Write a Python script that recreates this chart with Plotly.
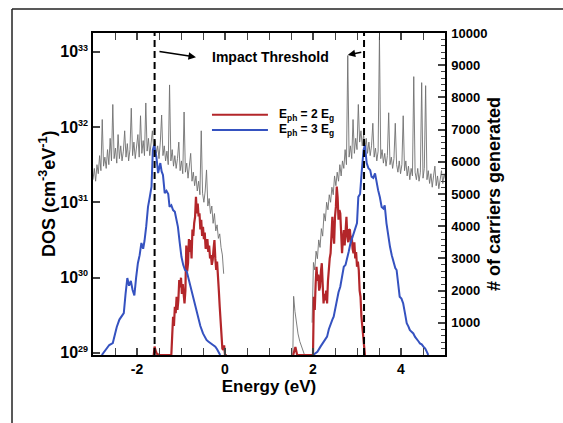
import math
import plotly.graph_objects as go

# ---------------- data ----------------
# Total DOS (gray), given as log10 values read from the log axis
dos_left_x = [round(-3.00 + 0.03 * i, 2) for i in range(100)]
dos_left_exp = [31.30, 31.45, 31.28, 31.50, 31.38, 31.62, 31.42, 32.10, 31.48, 31.60,
                31.45, 31.70, 31.50, 31.85, 31.55, 32.30, 31.58, 31.72, 31.52, 31.90,
                31.58, 31.75, 31.55, 31.68, 31.95, 31.60, 31.78, 31.55, 31.70, 32.25,
                31.62, 31.80, 31.58, 31.72, 31.90, 31.60, 32.15, 31.65, 31.82, 31.62,
                32.32, 31.68, 31.85, 31.62, 31.78, 31.95, 31.70, 31.82, 31.65, 31.75,
                31.58, 31.80, 32.16, 31.62, 31.75, 31.55, 31.68, 31.50, 32.56, 31.55,
                31.70, 31.48, 31.62, 31.45, 31.58, 31.80, 31.42, 31.55, 31.38, 32.20,
                31.40, 31.52, 31.32, 31.45, 31.65, 31.28, 31.40, 31.22, 31.35, 31.15,
                31.28, 31.10, 31.95, 31.12, 31.00, 31.15, 31.43, 30.95, 31.05, 30.85,
                30.95, 30.72, 30.85, 30.62, 30.70, 30.52, 30.58, 30.40, 30.30, 30.05]
dos_edge_x = [1.54, 1.56, 1.59, 1.62, 1.66, 1.70, 1.76, 1.82]
dos_edge_exp = [28.90, 29.75, 29.55, 29.40, 29.25, 29.15, 29.05, 28.95]
dos_right_x = [round(1.98 + 0.03 * i, 2) for i in range(102)]
dos_right_exp = [29.40, 30.20, 30.10, 30.35, 30.25, 30.50, 30.40, 30.65, 30.55, 30.85,
                 30.75, 31.00, 30.90, 31.10, 31.00, 31.20, 31.10, 31.35, 31.22, 31.40,
                 31.28, 31.50, 31.35, 31.55, 31.45, 31.70, 31.50, 32.95, 31.60, 31.75,
                 31.58, 32.10, 31.65, 31.85, 31.70, 32.30, 31.80, 31.95, 31.75, 31.90,
                 31.72, 31.85, 31.65, 31.80, 31.62, 31.75, 32.05, 31.60, 31.72, 31.55,
                 31.68, 33.20, 31.58, 31.70, 31.52, 31.65, 31.48, 31.62, 32.19, 31.50,
                 31.60, 31.45, 31.58, 32.05, 31.50, 31.40, 31.55, 31.38, 31.50, 32.15,
                 31.42, 31.55, 31.35, 31.48, 31.30, 31.45, 31.35, 32.67, 31.40, 31.30,
                 31.45, 31.28, 31.40, 32.59, 31.32, 31.45, 32.55, 31.30, 31.42, 31.25,
                 31.38, 31.20, 31.35, 31.48, 31.22, 31.35, 31.18, 31.30, 31.42, 31.25,
                 31.38, 31.30]

# Carriers generated, E_ph = 2 Eg (red)
red_x = [-1.62, -1.60, -1.58, -1.55, -1.50, -1.22, -1.20, -1.18, -1.16, -1.14, -1.12, -1.10,
         -1.08, -1.06, -1.04, -1.02, -1.00, -0.98, -0.96, -0.94, -0.92, -0.90, -0.88, -0.86,
         -0.84, -0.82, -0.80, -0.78, -0.76, -0.74, -0.72, -0.70, -0.68, -0.66, -0.64, -0.62,
         -0.60, -0.58, -0.56, -0.54, -0.52, -0.50, -0.48, -0.46, -0.44, -0.42, -0.40, -0.38,
         -0.36, -0.34, -0.32, -0.30, -0.28, -0.26, -0.24, -0.22, -0.20, -0.18, -0.16, -0.14,
         -0.12, -0.10, -0.08, -0.06, -0.04, -0.02, 0.00, 0.04,
         None,
         1.55, 1.60, 1.64, 2.00, 2.02, 2.04, 2.06, 2.08, 2.10, 2.12, 2.14, 2.16, 2.18, 2.20,
         2.22, 2.24, 2.26, 2.28, 2.30, 2.32, 2.34, 2.36, 2.38, 2.40, 2.42, 2.44, 2.46, 2.48,
         2.50, 2.52, 2.54, 2.56, 2.58, 2.60, 2.62, 2.64, 2.66, 2.68, 2.70, 2.72, 2.74, 2.76,
         2.78, 2.80, 2.82, 2.84, 2.86, 2.88, 2.90, 2.92, 2.94, 2.96, 2.98, 3.00, 3.02, 3.04,
         3.06, 3.08, 3.10, 3.12, 3.14, 3.16, 3.18]
red_y = [0, 260, 150, 40, 0, 0, 600, 1190, 900, 1500, 1300, 1810,
         1400, 1700, 2330, 2100, 2400, 1900, 2200, 1700, 1600, 2000, 3400, 2600,
         2850, 3600, 3200, 3570, 3000, 3900, 3700, 4100, 4290, 4910, 4400, 4700,
         4300, 4400, 3900, 4200, 3700, 3980, 3600, 3800, 3300, 3360, 3600, 3200,
         3400, 3000, 3100, 2800, 2950, 3300, 3570, 3000, 2640, 2900, 2230, 2000,
         1500, 990, 360, 200, 160, 300, 0, 0,
         None,
         0, 250, 0, 0, 1810, 1400, 2200, 2740, 2300, 2500, 2000, 2120, 2600, 2850,
         2200, 1600, 1900, 1700, 2000, 1600, 2300, 2740, 3000, 3160, 3700, 4290, 3800, 3460,
         4300, 4600, 5230, 4900, 4200, 4500, 4400, 3700, 3160, 3600, 3880, 3400, 3900, 4290,
         3700, 3500, 3900, 3880, 3500, 3700, 3300, 3160, 3500, 3000, 3200, 2740, 2900, 2640,
         2000, 1810, 1200, 880, 400, 260, 0]

# Carriers generated, E_ph = 3 Eg (blue)
blue_x = [-2.80, -2.72, -2.63, -2.55, -2.50, -2.46, -2.40, -2.36, -2.30, -2.26, -2.22, -2.18,
          -2.14, -2.10, -2.06, -2.02, -1.98, -1.94, -1.90, -1.86, -1.83, -1.79, -1.75, -1.71,
          -1.67, -1.64, -1.61, -1.58, -1.56, -1.52, -1.49, -1.47, -1.44, -1.41, -1.37, -1.33,
          -1.29, -1.26, -1.22, -1.18, -1.14, -1.10, -1.07, -1.03, -0.99, -0.95, -0.91, -0.87,
          -0.84, -0.80, -0.76, -0.72, -0.68, -0.64, -0.61, -0.56, -0.50, -0.46, -0.42, -0.38,
          -0.34, -0.30, -0.26, -0.22, -0.18, -0.14, -0.11,
          None,
          2.00, 2.10, 2.17, 2.24, 2.32, 2.36, 2.40, 2.44, 2.47, 2.51, 2.55, 2.58, 2.62, 2.66,
          2.70, 2.74, 2.77, 2.81, 2.85, 2.88, 2.92, 2.96, 3.00, 3.03, 3.07, 3.11, 3.15, 3.18,
          3.20, 3.22, 3.26, 3.30, 3.33, 3.37, 3.41, 3.45, 3.48, 3.52, 3.56, 3.60, 3.63, 3.67,
          3.71, 3.75, 3.79, 3.83, 3.87, 3.90, 3.94, 3.97, 4.01, 4.05, 4.09, 4.13, 4.17, 4.20,
          4.24, 4.28, 4.32, 4.36, 4.40, 4.43, 4.47, 4.51, 4.55, 4.58, 4.62]
blue_y = [0, 150, 310, 370, 700, 870, 1100, 1180, 1300, 1900, 2390, 2150,
          2300, 2020, 1850, 2400, 2850, 3100, 3480, 3300, 3540, 4000, 4600, 4900,
          5230, 6370, 6520, 6300, 6160, 5650, 5800, 5960, 5700, 5590, 5030, 5100,
          5000, 4600, 4650, 4500, 4450, 4200, 3980, 3500, 3050, 2800, 2640, 2600,
          2430, 2300, 2000, 1810, 1600, 1350, 1190, 900, 670, 550, 470, 420,
          380, 360, 300, 260, 180, 80, 0,
          None,
          0, 100, 260, 400, 570, 800, 990, 1100, 1190, 1500, 1810, 1950, 2120, 2400,
          2740, 2800, 2950, 3200, 3460, 3600, 3790, 3900, 4100, 4910, 5000, 5740, 6370, 6520,
          6200, 5960, 5800, 5740, 5540, 5500, 5640, 5300, 5120, 4900, 4600, 4550, 4650, 4090,
          3700, 3360, 3100, 2850, 2700, 2640, 2200, 1810, 1750, 1600, 1300, 990, 880, 780,
          720, 670, 560, 470, 420, 360, 330, 260, 200, 120, 0]

thresholds = [-1.6, 3.16]
right_ticks = [1000, 2000, 3000, 4000, 5000, 6000, 7000, 8000, 9000, 10000]
right_labels = ["1000", "2000", "3000", "4000", "5000", "6000", "7000", "8000", "9000", "10000"]
x_ticks = [-2, 0, 2, 4]
x_labels = ["-2", "0", "2", "4"]
dos_decades = [29, 30, 31, 32, 33]
legend_labels = ["E<sub>ph</sub> = 2 E<sub>g</sub>", "E<sub>ph</sub> = 3 E<sub>g</sub>"]

# ---------------- figure ----------------
FONT = "Liberation Sans"
RED = "#b3262a"
BLUE = "#3552c0"
GRAY = "#707070"

gray_x = dos_left_x + [None] + dos_edge_x + [None] + dos_right_x
gray_y = ([10 ** e for e in dos_left_exp] + [None] +
          [10 ** e for e in dos_edge_exp] + [None] +
          [10 ** e for e in dos_right_exp])

fig = go.Figure()
fig.add_trace(go.Scatter(x=gray_x, y=gray_y, mode="lines", yaxis="y",
                         line=dict(color=GRAY, width=0.9), showlegend=False,
                         connectgaps=False))
fig.add_trace(go.Scatter(x=red_x, y=red_y, mode="lines", yaxis="y2",
                         line=dict(color=RED, width=2.2), showlegend=False,
                         connectgaps=False))
fig.add_trace(go.Scatter(x=blue_x, y=blue_y, mode="lines", yaxis="y2",
                         line=dict(color=BLUE, width=2), showlegend=False,
                         connectgaps=False))

xtickfont = dict(family=FONT, size=14, color="black", weight="bold")
rtickfont = dict(family=FONT, size=13, color="black", weight="bold")
titlefont = dict(family=FONT, size=18, color="black", weight="bold")

log_major = [10.0 ** d for d in dos_decades]
log_major_text = ["10<sup><span style='font-size:9px'>%d</span></sup>" % d for d in dos_decades]

fig.update_layout(
    width=563, height=423,
    margin=dict(l=93, r=118, t=33, b=68),
    paper_bgcolor="white", plot_bgcolor="white",
    showlegend=False,
    font=dict(family=FONT, color="black"),
    xaxis=dict(
        range=[-3, 5], tickvals=x_ticks, ticktext=x_labels,
        ticks="inside", ticklen=7, tickwidth=1.5,
        minor=dict(dtick=0.5, tick0=0, ticks="inside", ticklen=4, tickwidth=1),
        showline=True, linewidth=1.5, linecolor="black", mirror="allticks",
        showgrid=False, zeroline=False, tickfont=xtickfont,
        title=dict(text="Energy (eV)", font=dict(family=FONT, size=17, color="black", weight="bold"),
                   standoff=0),
    ),
    yaxis=dict(
        type="log", range=[28.97, 33.25], tickmode="array",
        tickvals=log_major, ticktext=log_major_text,
        ticks="inside", ticklen=7, tickwidth=1.5,
        showline=True, linewidth=1.5, linecolor="black",
        showgrid=False, zeroline=False,
        tickfont=dict(family=FONT, size=16, color="black", weight="bold"),
        ticklabelstandoff=0,
    ),
    yaxis2=dict(
        overlaying="y", side="right", range=[0, 10000],
        tickvals=right_ticks, ticktext=right_labels, ticks="inside", ticklen=7, tickwidth=1.5,
        minor=dict(dtick=200, tick0=0, ticks="inside", ticklen=4, tickwidth=1),
        showline=True, linewidth=1.5, linecolor="black",
        showgrid=False, zeroline=False, tickfont=rtickfont,
        ticklabelstandoff=2,
    ),
)

# minor ticks of the log DOS axis (2..9 within each decade)
for d in dos_decades[:-1]:
    for k in range(2, 10):
        yl = math.log10(k * 10.0 ** d)
        fig.add_shape(type="line", xref="paper", yref="y", x0=0, x1=4 / 352, y0=yl, y1=yl,
                      line=dict(color="black", width=1))

# axis titles (placed as rotated annotations for precise positioning)
fig.add_annotation(x=(47 - 93) / 352, y=0.5, xref="paper", yref="paper",
                   text="DOS (cm<sup>-3</sup>eV<sup>-1</sup>)", textangle=-90, showarrow=False,
                   xanchor="center", yanchor="middle", font=titlefont)
fig.add_annotation(x=(494 - 93) / 352, y=0.5, xref="paper", yref="paper",
                   text="# of carriers generated", textangle=-90, showarrow=False,
                   xanchor="center", yanchor="middle", font=titlefont)

# threshold dashed lines
for t in thresholds:
    fig.add_shape(type="line", xref="x", yref="paper", x0=t, x1=t, y0=0, y1=1,
                  line=dict(color="black", width=2, dash="7px,4px"))

# outer figure frame (cropped at the right and bottom)
fig.add_shape(type="line", xref="paper", yref="paper", x0=-0.2301, x1=1.4, y0=1.0745, y1=1.0745,
              line=dict(color="#222222", width=1.5))
fig.add_shape(type="line", xref="paper", yref="paper", x0=-0.2301, x1=-0.2301, y0=1.0745, y1=-0.3,
              line=dict(color="#222222", width=1.5))

# Impact threshold label + arrows
fig.add_annotation(x=1.03, y=0.955, xref="x", yref="paper", text="Impact Threshold",
                   showarrow=False, font=dict(family=FONT, size=14, color="black", weight="bold"))
fig.add_annotation(x=-0.66, y=0.925, xref="x", yref="paper", text="", showarrow=True,
                   ax=-38, ay=-6, arrowhead=2, arrowsize=1, arrowwidth=1.5, arrowcolor="black")
fig.add_annotation(x=2.79, y=0.932, xref="x", yref="paper", text="", showarrow=True,
                   ax=15, ay=-3, arrowhead=2, arrowsize=1, arrowwidth=1.5, arrowcolor="black")

# manual legend
for i, (lab, col) in enumerate(zip(legend_labels, [RED, BLUE])):
    yp = 0.746 - i * 0.047
    fig.add_shape(type="line", xref="paper", yref="paper", x0=0.338, x1=0.497, y0=yp, y1=yp,
                  line=dict(color=col, width=2))
    fig.add_annotation(x=0.522, y=yp, xref="paper", yref="paper", text=lab, showarrow=False,
                       xanchor="left", yanchor="middle",
                       font=dict(family=FONT, size=12, color="black", weight="bold"))

fig.write_html("out.html")
